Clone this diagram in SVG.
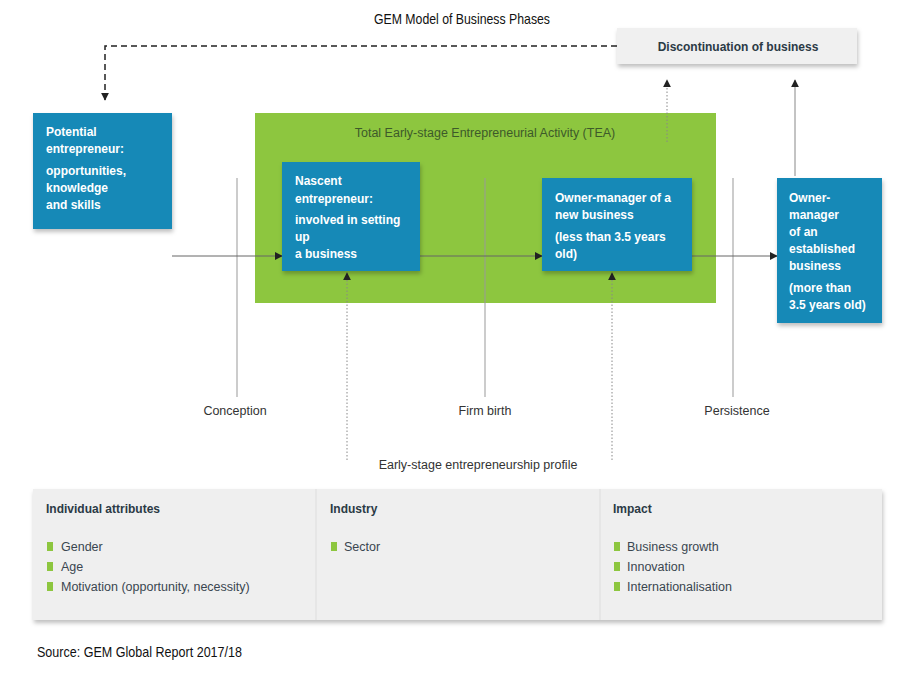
<svg xmlns="http://www.w3.org/2000/svg" width="900" height="674" viewBox="0 0 900 674">
<style>
.t{font-family:"Liberation Sans",Arial,sans-serif}
.bw{font-family:"Liberation Sans",Arial,sans-serif;font-weight:bold;font-size:12px;fill:#fff}
.hd{font-family:"Liberation Sans",Arial,sans-serif;font-weight:bold;font-size:12px;fill:#2b3a45}
.it{font-family:"Liberation Sans",Arial,sans-serif;font-size:12.5px;fill:#3a4650}
.lb{font-family:"Liberation Sans",Arial,sans-serif;font-size:12.5px;fill:#333}
.blue{fill:#1789b7}
.bul{fill:#8dc63f}
.vl{stroke:#999;stroke-width:1}
</style>
<defs>
<marker id="ah" viewBox="0 0 10 10" refX="9" refY="5" markerWidth="8" markerHeight="8" orient="auto" markerUnits="userSpaceOnUse"><path d="M0,0 L10,5 L0,10 z" fill="#222"/></marker>
<filter id="sh" x="-10%" y="-10%" width="130%" height="140%"><feDropShadow dx="1" dy="3" stdDeviation="2" flood-color="#000" flood-opacity="0.25"/></filter>
</defs>
<rect width="900" height="674" fill="#fff"/>
<text class="t" x="462" y="24" text-anchor="middle" font-size="15" textLength="176" lengthAdjust="spacingAndGlyphs" fill="#111">GEM Model of Business Phases</text>

<g id="tea"><rect x="255" y="113" width="461" height="190" fill="#8dc63f"/>
<text class="t" x="485" y="137" text-anchor="middle" font-size="12.5" fill="#3d5a2a">Total Early-stage Entrepreneurial Activity (TEA)</text></g>

<g id="guides">
<line class="vl" x1="237" y1="178" x2="237" y2="397"/>
<line class="vl" x1="485" y1="178" x2="485" y2="397"/>
<line class="vl" x1="733" y1="178" x2="733" y2="397"/>
<text class="lb" x="235" y="415" text-anchor="middle">Conception</text>
<text class="lb" x="485" y="415" text-anchor="middle">Firm birth</text>
<text class="lb" x="737" y="415" text-anchor="middle">Persistence</text>
<text class="lb" x="478" y="469" text-anchor="middle">Early-stage entrepreneurship profile</text>
</g>

<g id="connectors" fill="none">
<path d="M617,46 H105 V100" stroke="#222" stroke-width="1.5" stroke-dasharray="6,4" marker-end="url(#ah)"/>
<line x1="172" y1="256" x2="282" y2="256" stroke="#666" marker-end="url(#ah)"/>
<line x1="420" y1="256" x2="542" y2="256" stroke="#666" marker-end="url(#ah)"/>
<line x1="692" y1="256" x2="777" y2="256" stroke="#666" marker-end="url(#ah)"/>
<line x1="347" y1="460" x2="347" y2="273" stroke="#888" stroke-dasharray="1.5,2" marker-end="url(#ah)"/>
<line x1="612" y1="460" x2="612" y2="273" stroke="#888" stroke-dasharray="1.5,2" marker-end="url(#ah)"/>
<line x1="667" y1="142" x2="667" y2="80" stroke="#888" stroke-dasharray="1.5,2" marker-end="url(#ah)"/>
<line x1="795" y1="176" x2="795" y2="80" stroke="#888" marker-end="url(#ah)"/>
</g>

<g id="discontinuation"><rect x="617" y="28" width="240" height="36" fill="#f0f0f0" filter="url(#sh)"/>
<text class="hd" x="738" y="51" text-anchor="middle">Discontinuation of business</text></g>

<g id="potential"><rect class="blue" x="33" y="113" width="139" height="116" filter="url(#sh)"/>
<text class="bw" x="46" y="136">Potential</text>
<text class="bw" x="46" y="153">entrepreneur:</text>
<text class="bw" x="46" y="175">opportunities,</text>
<text class="bw" x="46" y="192">knowledge</text>
<text class="bw" x="46" y="209">and skills</text></g>

<g id="nascent"><rect class="blue" x="282" y="162" width="138" height="109" filter="url(#sh)"/>
<text class="bw" x="295" y="185">Nascent</text>
<text class="bw" x="295" y="203">entrepreneur:</text>
<text class="bw" x="295" y="224">involved in setting</text>
<text class="bw" x="295" y="241">up</text>
<text class="bw" x="295" y="258">a business</text></g>

<g id="newbiz"><rect class="blue" x="542" y="178" width="150" height="93" filter="url(#sh)"/>
<text class="bw" x="555" y="202">Owner-manager of a</text>
<text class="bw" x="555" y="219">new business</text>
<text class="bw" x="555" y="241">(less than 3.5 years</text>
<text class="bw" x="555" y="258">old)</text></g>

<g id="established"><rect class="blue" x="777" y="178" width="105" height="145" filter="url(#sh)"/>
<text class="bw" x="789" y="202">Owner-</text>
<text class="bw" x="789" y="219">manager</text>
<text class="bw" x="789" y="236">of an</text>
<text class="bw" x="789" y="253">established</text>
<text class="bw" x="789" y="270">business</text>
<text class="bw" x="789" y="292">(more than</text>
<text class="bw" x="789" y="309">3.5 years old)</text></g>

<g id="profile"><rect x="33" y="489" width="849" height="131" fill="#efefef" filter="url(#sh)"/>
<line x1="316" y1="489" x2="316" y2="620" stroke="#ddd"/>
<line x1="600" y1="489" x2="600" y2="620" stroke="#ddd"/>
<text class="hd" x="46" y="513">Individual attributes</text>
<rect class="bul" x="47" y="542" width="6" height="9"/><text class="it" x="61" y="551">Gender</text>
<rect class="bul" x="47" y="562" width="6" height="9"/><text class="it" x="61" y="571">Age</text>
<rect class="bul" x="47" y="582" width="6" height="9"/><text class="it" x="61" y="591">Motivation (opportunity, necessity)</text>
<text class="hd" x="330" y="513">Industry</text>
<rect class="bul" x="331" y="542" width="6" height="9"/><text class="it" x="344" y="551">Sector</text>
<text class="hd" x="613" y="513">Impact</text>
<rect class="bul" x="614" y="542" width="6" height="9"/><text class="it" x="627" y="551">Business growth</text>
<rect class="bul" x="614" y="562" width="6" height="9"/><text class="it" x="627" y="571">Innovation</text>
<rect class="bul" x="614" y="582" width="6" height="9"/><text class="it" x="627" y="591">Internationalisation</text>
</g>
<text class="t" x="37" y="657" font-size="15" textLength="205" lengthAdjust="spacingAndGlyphs" fill="#111">Source: GEM Global Report 2017/18</text>
</svg>
